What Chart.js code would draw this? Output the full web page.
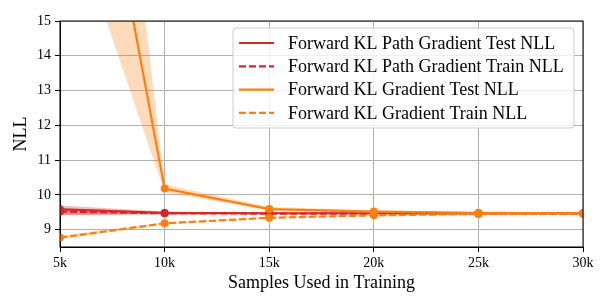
<!DOCTYPE html>
<html>
<head>
<meta charset="utf-8">
<script src="https://cdn.jsdelivr.net/npm/chart.js@4/dist/chart.umd.min.js"></script>
<style>
  html, body { margin: 0; padding: 0; background: #fff; }
</style>
</head>
<body>
<canvas id="chart" width="609" height="305"></canvas>
<script>
// valores
const samples = [5000, 10000, 15000, 20000, 25000, 30000];
const xLabels = ['5k', '10k', '15k', '20k', '25k', '30k'];
const yTicks = [9, 10, 11, 12, 13, 14, 15];

const pathTest   = [9.58, 9.48, 9.47, 9.47, 9.47, 9.47];
const pathTestHi = [9.69, 9.52, 9.49, 9.49, 9.48, 9.48];
const pathTestLo = [9.42, 9.44, 9.45, 9.45, 9.46, 9.46];

const pathTrain   = [9.52, 9.47, 9.46, 9.46, 9.46, 9.46];
const pathTrainHi = [9.62, 9.50, 9.47, 9.47, 9.47, 9.47];
const pathTrainLo = [9.42, 9.44, 9.45, 9.45, 9.45, 9.45];

const gradTest   = [26.3, 10.18, 9.59, 9.52, 9.48, 9.47];
const gradTestHi = [36.0, 10.30, 9.65, 9.56, 9.50, 9.49];
const gradTestLo = [18.9, 10.08, 9.55, 9.49, 9.46, 9.45];

const gradTrain   = [8.77, 9.18, 9.34, 9.41, 9.45, 9.46];
const gradTrainHi = [8.82, 9.21, 9.36, 9.43, 9.46, 9.47];
const gradTrainLo = [8.72, 9.15, 9.32, 9.39, 9.44, 9.45];

const RED = '#d62728';
const ORANGE = '#ff7f0e';
const SERIF = "'Liberation Serif', 'DejaVu Serif', serif";

function pts(arr) {
  return arr.map((v, i) => ({ x: samples[i], y: v }));
}

function band(hi, lo, color) {
  return [
    { data: pts(hi), borderWidth: 0, pointRadius: 0, fill: '+1', backgroundColor: color, band: true },
    { data: pts(lo), borderWidth: 0, pointRadius: 0, fill: false, band: true }
  ];
}

function line(label, arr, color, dashed) {
  return {
    label: label,
    data: pts(arr),
    borderColor: color,
    borderWidth: 2.2,
    borderDash: dashed ? [7, 3] : [],
    pointRadius: 4,
    pointBackgroundColor: color,
    pointBorderWidth: 0,
    fill: false,
    tension: 0
  };
}

const datasets = [
  ...band(pathTestHi, pathTestLo, 'rgba(214,39,40,0.3)'),
  line('Forward KL Path Gradient Test NLL', pathTest, RED, false),
  ...band(pathTrainHi, pathTrainLo, 'rgba(214,39,40,0.3)'),
  line('Forward KL Path Gradient Train NLL', pathTrain, RED, true),
  ...band(gradTestHi, gradTestLo, 'rgba(255,127,14,0.28)'),
  line('Forward KL Gradient Test NLL', gradTest, ORANGE, false),
  ...band(gradTrainHi, gradTrainLo, 'rgba(255,127,14,0.28)'),
  line('Forward KL Gradient Train NLL', gradTrain, ORANGE, true)
];
// primeiro da lista fica embaixo
datasets.forEach((d, i) => { d.order = 100 - i; });

// moldura + legenda no estilo matplotlib
const framePlugin = {
  id: 'frame',
  afterDraw(chart) {
    const ctx = chart.ctx;
    const a = chart.chartArea;
    ctx.save();
    ctx.strokeStyle = '#000';
    ctx.lineWidth = 1;
    ctx.strokeRect(a.left, a.top, a.right - a.left, a.bottom - a.top);

    const items = chart.data.datasets.filter(d => !d.band);
    const bx = a.right - 9, by = a.top + 7;
    const w = 341, h = 100, x0 = bx - w;
    ctx.beginPath();
    ctx.roundRect(x0, by, w, h, 3);
    ctx.fillStyle = 'rgba(255,255,255,0.8)';
    ctx.fill();
    ctx.strokeStyle = '#cccccc';
    ctx.stroke();

    ctx.font = '18px ' + SERIF;
    ctx.textBaseline = 'middle';
    items.forEach((d, i) => {
      const y = by + 15 + i * 23.3;
      ctx.beginPath();
      ctx.setLineDash(d.borderDash);
      ctx.strokeStyle = d.borderColor;
      ctx.lineWidth = 2.2;
      ctx.moveTo(x0 + 6, y);
      ctx.lineTo(x0 + 41, y);
      ctx.stroke();
      ctx.setLineDash([]);
      ctx.fillStyle = '#000';
      ctx.fillText(d.label, x0 + 55, y + 1);
    });
    ctx.restore();
  }
};

const ctx = document.getElementById('chart').getContext('2d');
new Chart(ctx, {
  type: 'line',
  data: { datasets: datasets },
  options: {
    responsive: false,
    animation: false,
    layout: { padding: { top: 21, right: 26, left: 0, bottom: 0 } },
    plugins: { legend: { display: false }, tooltip: { enabled: false } },
    scales: {
      x: {
        type: 'linear',
        min: 5000,
        max: 30000,
        afterBuildTicks(scale) { scale.ticks = samples.map(v => ({ value: v })); },
        afterFit(scale) { scale.height = 58; },
        ticks: {
          callback: (v, i) => xLabels[i],
          color: '#000',
          font: { family: SERIF, size: 14 },
          padding: 3,
          maxRotation: 0
        },
        grid: { color: '#b0b0b0', lineWidth: 1, tickColor: '#000', tickLength: 5 },
        border: { color: '#000' },
        title: {
          display: true,
          text: 'Samples Used in Training',
          color: '#000',
          font: { family: SERIF, size: 18 },
          padding: { top: 2, bottom: 11 }
        }
      },
      y: {
        min: 8.5,
        max: 15,
        afterBuildTicks(scale) { scale.ticks = yTicks.map(v => ({ value: v })); },
        afterFit(scale) { scale.width = 60; },
        ticks: {
          color: '#000',
          font: { family: SERIF, size: 14 },
          padding: 4
        },
        grid: { color: '#b0b0b0', lineWidth: 1, tickColor: '#000', tickLength: 5 },
        border: { color: '#000' },
        title: {
          display: true,
          text: 'NLL',
          color: '#000',
          font: { family: SERIF, size: 18 },
          padding: { top: 10, bottom: 0 }
        }
      }
    }
  },
  plugins: [framePlugin]
});
</script>
</body>
</html>
